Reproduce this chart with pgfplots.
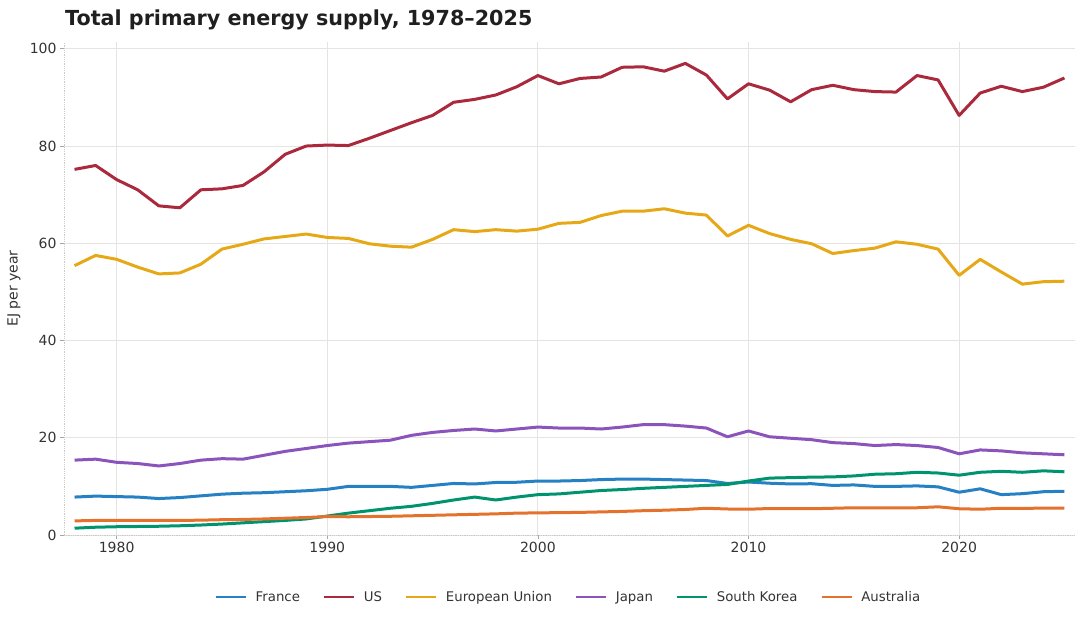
\documentclass[border=0pt]{standalone}
\usepackage{pgfplots}
\pgfplotsset{compat=1.18}
\usepackage{pgfplotstable}
\usepackage{fontspec}
\setmainfont{DejaVu Sans}
\definecolor{cFr}{RGB}{37,128,196}
\definecolor{cUs}{RGB}{170,41,60}
\definecolor{cEu}{RGB}{230,168,23}
\definecolor{cJp}{RGB}{139,84,188}
\definecolor{cKr}{RGB}{0,148,110}
\definecolor{cAu}{RGB}{228,114,44}
\definecolor{cGrid}{RGB}{230,228,224}
\definecolor{cSpine}{RGB}{205,202,196}
\definecolor{cText}{RGB}{51,51,51}
\pgfplotstableread{
year fr us eu jp kr au
1978 7.8 75.2 55.4 15.4 1.4 2.9
1979 8.0 76.0 57.5 15.6 1.6 3.0
1980 7.9 73.1 56.7 14.95 1.7 3.0
1981 7.8 71.0 55.1 14.7 1.75 3.0
1982 7.5 67.7 53.7 14.2 1.8 3.0
1983 7.7 67.3 53.9 14.7 1.9 3.0
1984 8.05 71.0 55.7 15.4 2.05 3.05
1985 8.4 71.2 58.8 15.7 2.25 3.15
1986 8.6 71.9 59.8 15.6 2.5 3.2
1987 8.7 74.7 60.9 16.4 2.75 3.3
1988 8.9 78.3 61.4 17.2 3.0 3.45
1989 9.1 80.0 61.9 17.8 3.3 3.6
1990 9.4 80.2 61.2 18.4 3.9 3.8
1991 10.0 80.1 61.0 18.9 4.5 3.75
1992 10.0 81.6 59.9 19.2 5.0 3.8
1993 10.0 83.2 59.4 19.5 5.5 3.85
1994 9.8 84.8 59.2 20.5 5.9 3.95
1995 10.2 86.3 60.8 21.1 6.5 4.05
1996 10.6 89.0 62.8 21.5 7.2 4.15
1997 10.5 89.6 62.4 21.8 7.8 4.25
1998 10.8 90.5 62.8 21.4 7.2 4.35
1999 10.85 92.2 62.5 21.8 7.8 4.5
2000 11.1 94.5 62.9 22.2 8.3 4.55
2001 11.1 92.8 64.1 22.0 8.45 4.6
2002 11.2 93.9 64.3 22.0 8.8 4.65
2003 11.4 94.2 65.7 21.8 9.15 4.75
2004 11.5 96.2 66.6 22.2 9.35 4.85
2005 11.5 96.3 66.6 22.7 9.6 5.0
2006 11.4 95.4 67.1 22.7 9.8 5.1
2007 11.3 97.0 66.2 22.4 10.0 5.25
2008 11.2 94.6 65.8 22.0 10.2 5.5
2009 10.6 89.7 61.5 20.2 10.4 5.35
2010 10.9 92.8 63.7 21.4 11.1 5.3
2011 10.65 91.5 62.0 20.2 11.7 5.45
2012 10.5 89.1 60.8 19.9 11.8 5.4
2013 10.55 91.6 59.9 19.6 11.9 5.4
2014 10.2 92.5 57.9 19.0 11.95 5.5
2015 10.3 91.6 58.5 18.8 12.15 5.6
2016 10.0 91.2 59.0 18.4 12.5 5.6
2017 10.0 91.1 60.3 18.6 12.6 5.6
2018 10.1 94.5 59.8 18.4 12.9 5.6
2019 9.9 93.6 58.8 18.0 12.75 5.8
2020 8.8 86.3 53.4 16.7 12.3 5.4
2021 9.5 90.9 56.7 17.5 12.9 5.3
2022 8.3 92.3 54.1 17.3 13.1 5.5
2023 8.5 91.2 51.6 16.9 12.9 5.45
2024 8.9 92.1 52.1 16.7 13.2 5.55
2025 9.0 94.0 52.2 16.5 13.0 5.55
}\datatable
\begin{document}
\begin{tikzpicture}
\useasboundingbox (-64pt,-84pt) rectangle (1020pt,535pt);
\begin{axis}[
  at={(0pt,0pt)}, anchor=south west,
  scale only axis, width=1011pt, height=493pt,
  xmin=1977.5, xmax=2025.5, ymin=0, ymax=101.4,
  xtick={1980,1990,2000,2010,2020},
  ytick={0,20,40,60,80,100},
  axis x line*=bottom, axis y line*=left,
  axis line style={cSpine, line width=0.8pt, densely dotted, -},
  grid=major,
  major grid style={cGrid, line width=0.9pt},
  tick align=outside, major tick length=4pt,
  tick style={color=gray!70, line width=0.8pt, solid},
  /pgf/number format/assume math mode=true,
  /pgf/number format/1000 sep={},
  ticklabel style={font=\fontsize{14}{17}\selectfont, text=cText},
  legend style={at={(0.5,0)}, anchor=center, yshift=-62pt, draw=none, fill=none,
    font=\fontsize{13.3}{16}\selectfont, text=cText,
    /tikz/every even column/.append style={column sep=19pt},
    nodes={inner xsep=4pt}},
  legend columns=6,
  legend image code/.code={\draw[#1, line width=2.8pt] (0pt,0pt) -- (30pt,0pt); \path (34pt,0pt);},
  every axis plot/.append style={line width=3pt, line join=round, no markers},
]
\addplot[cFr] table[x=year, y=fr] {\datatable};
\addlegendentry{France}
\addplot[cUs] table[x=year, y=us] {\datatable};
\addlegendentry{US}
\addplot[cEu] table[x=year, y=eu] {\datatable};
\addlegendentry{European Union}
\addplot[cJp] table[x=year, y=jp] {\datatable};
\addlegendentry{Japan}
\addplot[cKr] table[x=year, y=kr] {\datatable};
\addlegendentry{South Korea}
\addplot[cAu] table[x=year, y=au] {\datatable};
\addlegendentry{Australia}
\end{axis}
\node[anchor=base west, inner sep=0pt, font=\fontsize{20.7}{25}\selectfont\bfseries, text=black!88] at (1pt,509pt) {Total primary energy supply, 1978–2025};
\node[rotate=90, inner sep=0pt, font=\fontsize{14}{17}\selectfont, text=cText] at (-50pt,246.5pt) {EJ per year};
\end{tikzpicture}
\end{document}
